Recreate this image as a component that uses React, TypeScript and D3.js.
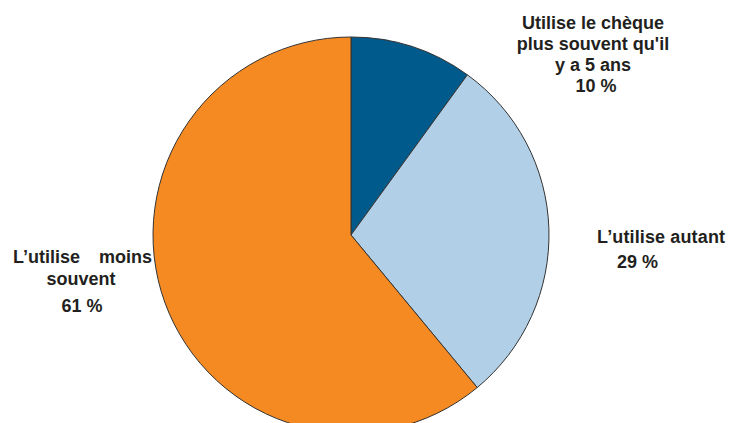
import React from "react";
import * as d3 from "d3";

const categories = ["Utilise le chèque plus souvent qu'il y a 5 ans", "L’utilise autant", "L’utilise moins souvent"];
const values = [10, 29, 61];
const colors = ["#005B8C", "#B1CFE6", "#F68A22"];

export default function App() {
  const width = 733, height = 423;
  const cx = 351, cy = 235, r = 198;
  const pie = d3.pie<number>().sort(null).startAngle(0).endAngle(2 * Math.PI);
  const arcs = pie(values);
  const arc = d3.arc<d3.PieArcDatum<number>>().innerRadius(0).outerRadius(r);
  const font = { fontFamily: "Liberation Sans, Arial, sans-serif", fontWeight: 700, fontSize: 18, fill: "#231F20" } as const;
  return (
    <svg width={width} height={height} style={{ position: "absolute", left: 0, top: 0 }}>
      <rect width={width} height={height} fill="#fff" />
      <g transform={`translate(${cx},${cy})`}>
        {arcs.map((a, i) => (
          <path key={i} d={arc(a) || ""} fill={colors[i]} stroke="#333" strokeWidth={1} />
        ))}
      </g>
      <g {...font}>
        <text x={593} y={29} textAnchor="middle">Utilise le chèque</text>
        <text x={593} y={50} textAnchor="middle">plus souvent qu'il</text>
        <text x={593} y={71} textAnchor="middle">y a 5 ans</text>
        <text x={596} y={92} textAnchor="middle">{values[0]} %</text>

        <text x={597} y={243} textAnchor="start" textLength={128} lengthAdjust="spacing">{categories[1]}</text>
        <text x={617} y={268} textAnchor="start">{values[1]} %</text>

        <text x={13} y={263} textAnchor="start">L’utilise</text>
        <text x={152} y={263} textAnchor="end">moins</text>
        <text x={81} y={285} textAnchor="middle">souvent</text>
        <text x={82} y={312} textAnchor="middle">{values[2]} %</text>
      </g>
    </svg>
  );
}
